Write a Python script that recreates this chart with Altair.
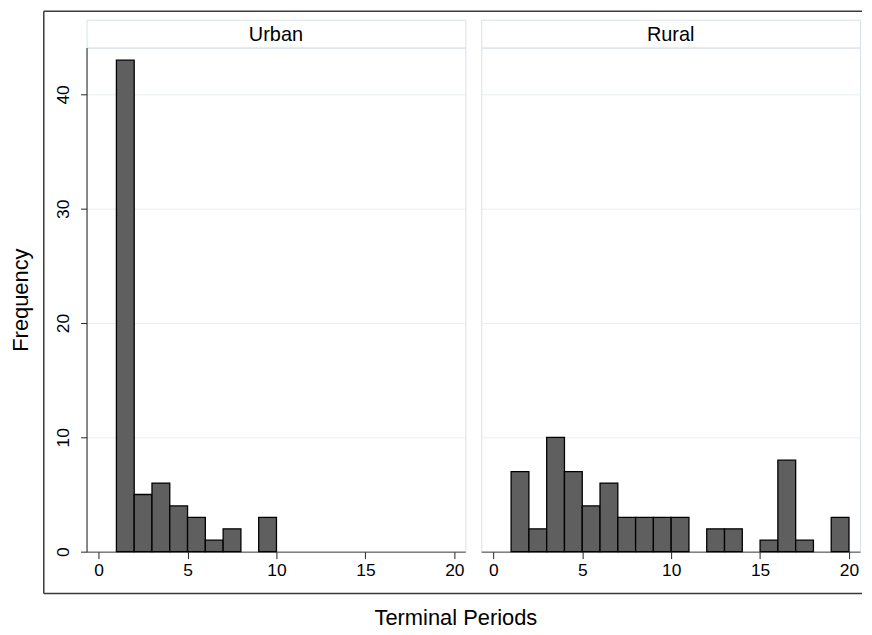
import altair as alt
import pandas as pd

# ---- data ----
regions = ["Urban", "Rural"]
urban_bin_start = [1, 2, 3, 4, 5, 6, 7, 9]
urban_freq = [43, 5, 6, 4, 3, 1, 2, 3]
rural_bin_start = [1, 2, 3, 4, 5, 6, 7, 8, 9, 10, 12, 13, 15, 16, 17, 19]
rural_freq = [7, 2, 10, 7, 4, 6, 3, 3, 3, 3, 2, 2, 1, 8, 1, 3]
bin_width = 1
x_ticks = [0, 5, 10, 15, 20]
y_ticks = [0, 10, 20, 30, 40]
x_title = "Terminal Periods"
y_title = "Frequency"

FONT = "Liberation Sans"
PW = 381      # panel width
PH = 507      # plot height
HH = 28       # header height
GRID = "#e6eef1"
FRAME = "#d8e2e7"
BOX = "#3a3a3a"

xs = alt.Scale(domain=[-0.68, 20.62], nice=False, zero=False)
ys = alt.Scale(domain=[0, 44.1], nice=False, zero=True)


def header(name, first):
    hdf = pd.DataFrame({"region": [name]})
    txt = alt.Chart(hdf).mark_text(font=FONT, fontSize=20, color="#000",
                                   baseline="middle", align="center").encode(
        x=alt.value(PW / 2), y=alt.value(HH / 2 + 1), text="region:N")
    layers = [txt]
    if first:
        top_line = alt.Chart(hdf).mark_rule(color=BOX, strokeWidth=1.5).encode(
            x=alt.value(-43), x2=alt.value(780), y=alt.value(-8.5))
        layers.append(top_line)
    return alt.layer(*layers).properties(width=PW, height=HH)


def plot(starts, freqs, first):
    df = pd.DataFrame({"start": starts, "freq": freqs})
    if first:
        xa = alt.Axis(values=x_ticks, title=x_title, titleX=371, titleY=66,
                      titleBaseline="middle", titleFontSize=22, titleFontWeight="normal",
                      titleFont=FONT, labelFont=FONT, labelFontSize=17.5,
                      tickSize=7, tickColor="#222", domainColor="#444", labelPadding=3,
                      grid=False, labelColor="#000", titleColor="#000")
        ya = alt.Axis(values=y_ticks, title=y_title, titleX=-66, titleAngle=270,
                      titleBaseline="middle", titleFontSize=22, titleFontWeight="normal",
                      titleFont=FONT, labelFont=FONT, labelFontSize=17.5, labelAngle=270,
                      labelPadding=8, tickSize=6, tickColor="#222", domainColor="#222",
                      grid=True, gridColor=GRID, labelColor="#000", titleColor="#000")
    else:
        xa = alt.Axis(values=x_ticks, title=None, labelFont=FONT, labelFontSize=17.5,
                      tickSize=7, tickColor="#222", domainColor="#444", labelPadding=3,
                      grid=False, labelColor="#000")
        ya = alt.Axis(values=y_ticks, title=None, labels=False, ticks=False,
                      domain=False, grid=True, gridColor=GRID)
    bars = alt.Chart(df).transform_calculate(
        end=f"datum.start + {bin_width}"
    ).mark_rect(fill="#5f5f5f", stroke="#000", strokeWidth=1.3).encode(
        x=alt.X("start:Q", scale=xs, axis=xa),
        x2="end:Q",
        y=alt.Y("freq:Q", scale=ys, axis=ya),
        y2=alt.datum(0),
    )
    layers = [bars]
    if first:
        d0 = pd.DataFrame({"k": [0]})
        left_line = alt.Chart(d0).mark_rule(color=BOX, strokeWidth=1.5).encode(
            x=alt.value(-43), y=alt.value(-36.5), y2=alt.value(549))
        bottom_line = alt.Chart(d0).mark_rule(color=BOX, strokeWidth=1.5).encode(
            x=alt.value(-43), x2=alt.value(780), y=alt.value(549))
        layers += [left_line, bottom_line]
    return alt.layer(*layers).properties(width=PW, height=PH)


chart = alt.concat(
    header(regions[0], True), header(regions[1], False),
    plot(urban_bin_start, urban_freq, True), plot(rural_bin_start, rural_freq, False),
    columns=2, spacing={"row": 0, "column": 16}, bounds="flush",
).properties(
    padding={"left": 1, "top": 0, "right": 0, "bottom": 0}, background="white"
).configure_view(
    stroke=FRAME, strokeWidth=1
)

chart.save("out.html", embed_options={"renderer": "svg", "actions": False})
